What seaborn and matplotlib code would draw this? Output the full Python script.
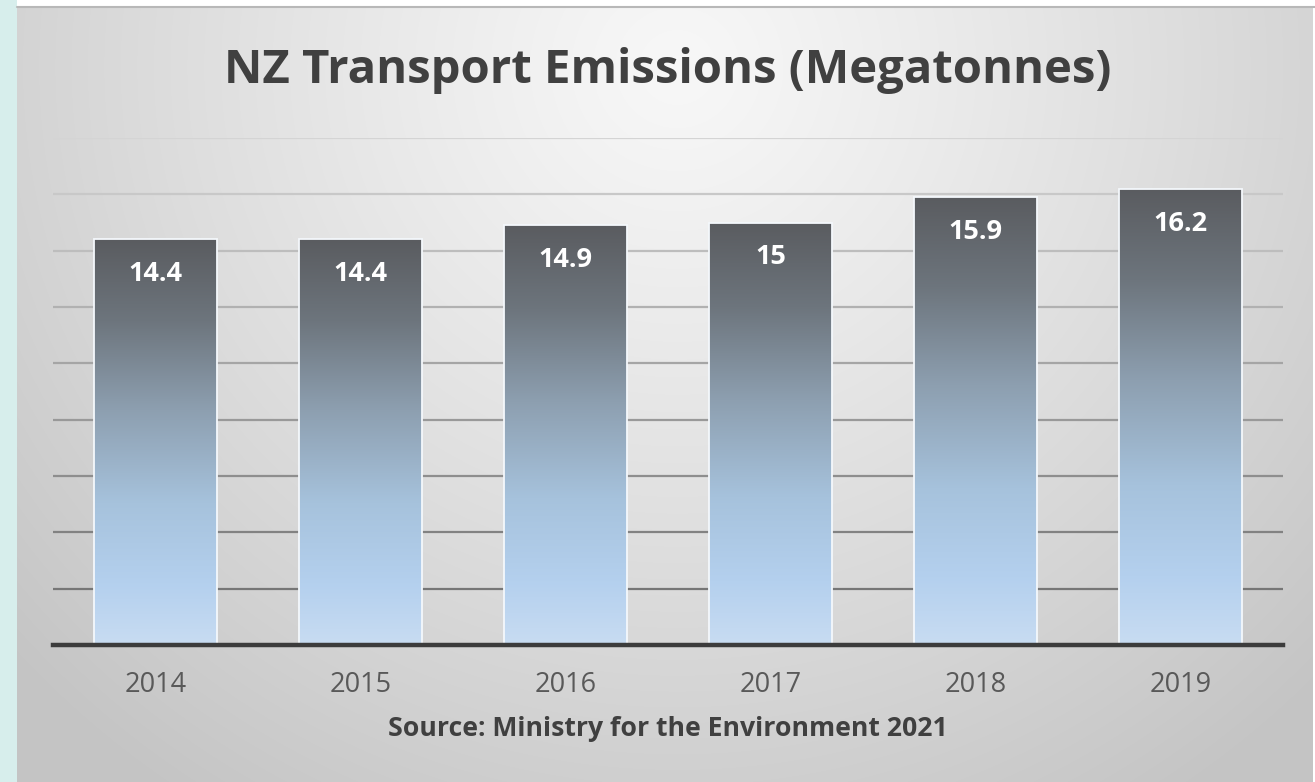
import numpy as np
import pandas as pd
import matplotlib
matplotlib.use("Agg")
import matplotlib.pyplot as plt
from matplotlib.colors import LinearSegmentedColormap, to_rgb
import seaborn as sns

# ---- data ----
years = ["2014", "2015", "2016", "2017", "2018", "2019"]
emissions = [14.4, 14.4, 14.9, 15.0, 15.9, 16.2]
value_labels = ["14.4", "14.4", "14.9", "15", "15.9", "16.2"]
title_text = "NZ Transport Emissions (Megatonnes)"
source_text = "Source: Ministry for the Environment 2021"
grid_ticks = [2, 4, 6, 8, 10, 12, 14, 16, 18]

df = pd.DataFrame({"year": years, "value": emissions})

sns.set_style("white")
plt.rcParams["font.family"] = ["Open Sans", "DejaVu Sans"]

W, H = 1315, 782
fig = plt.figure(figsize=(W / 100, H / 100), dpi=100)
fig.patch.set_facecolor("#ffffff")

# left cyan strip
fig.add_artist(plt.Rectangle((0, 0), 17 / W, 1, transform=fig.transFigure,
                             facecolor="#d7eeec", edgecolor="none", zorder=0))

# background radial gradient for chart area
bx0, by_top = 17, 7
bg = fig.add_axes([bx0 / W, 0, (W - bx0 - 2) / W, (H - by_top) / H], zorder=-1)
bw, bh = W - bx0 - 2, H - by_top
yy, xx = np.mgrid[0:bh, 0:bw]
cx, cy = 660, 60
r = np.sqrt(((xx - cx) / 900.0) ** 2 + ((yy - cy) / 880.0) ** 2)
r = np.clip(r, 0, 1)
light, dark = 0.97, 0.77
val = light - (light - dark) * r ** 1.15
img = np.dstack([val, val, val])
bg.imshow(img, extent=[0, bw, bh, 0], aspect="auto", interpolation="bilinear")
bg.set_xlim(0, bw)
bg.set_ylim(bh, 0)
bg.axis("off")
# top border line
fig.add_artist(plt.Line2D([bx0 / W, 1], [1 - 7 / H, 1 - 7 / H], transform=fig.transFigure,
                          color="#b8b8b8", lw=1.5, zorder=1))

# main axes
ax_left, ax_right = 53 / W, 1283 / W
ax_bottom = (H - 645) / H
ax_top = (H - 138) / H
ax = fig.add_axes([ax_left, ax_bottom, ax_right - ax_left, ax_top - ax_bottom])
ax.patch.set_alpha(0)

sns.barplot(data=df, x="year", y="value", ax=ax, width=0.6, color="#8899aa",
            zorder=3, errorbar=None)

cmap = LinearSegmentedColormap.from_list(
    "bar", [(0.0, "#c8dcf2"), (0.15, "#b4d0ee"), (0.35, "#a6c2dc"),
            (0.58, "#8d9fb0"), (0.8, "#6d757d"), (1.0, "#5a5c60")])
grad = np.linspace(1, 0, 256).reshape(-1, 1)

for p, lab in zip(ax.patches, value_labels):
    x0 = p.get_x()
    w = p.get_width()
    h = p.get_height()
    im = ax.imshow(grad, cmap=cmap, vmin=0, vmax=1, extent=[x0, x0 + w, 0, h],
                   aspect="auto", zorder=3.5, interpolation="bicubic")
    im.set_clip_path(p)
    p.set_facecolor("none")
    p.set_edgecolor("#f4f8fc")
    p.set_linewidth(1.3)
    p.set_zorder(4)
    ax.annotate(lab, xy=(x0 + w / 2, h), xytext=(0, -35), textcoords="offset pixels",
                ha="center", va="center", color="white", fontsize=19.5,
                fontweight="bold", zorder=5)

ax.set_xlim(-0.5, len(years) - 0.5)
ax.set_ylim(0, 18)
ax.set_yticks(grid_ticks)
ax.set_yticklabels([])
ax.tick_params(axis="y", length=0)
ax.tick_params(axis="x", length=0, pad=19, labelsize=19.5, labelcolor="#595959")
ax.yaxis.grid(True, linewidth=1.6)
ax.xaxis.grid(False)
ax.set_axisbelow(True)
gls = ax.get_ygridlines()
top_c = np.array(to_rgb("#d4d4d4"))
bot_c = np.array(to_rgb("#767676"))
for t, gl in zip(grid_ticks, gls):
    f = (t - grid_ticks[0]) / (grid_ticks[-1] - grid_ticks[0])
    gl.set_color(tuple(bot_c + (top_c - bot_c) * f))
for s in ["left", "right", "top"]:
    ax.spines[s].set_visible(False)
ax.spines["bottom"].set_color("#3c3c3c")
ax.spines["bottom"].set_linewidth(3.2)
ax.spines["bottom"].set_zorder(6)
ax.set_xlabel("")
ax.set_ylabel("")

fig.text(668 / W, 1 - 71 / H, title_text, ha="center", va="center",
         fontsize=34, fontweight="bold", color="#404040")
fig.text(668 / W, 1 - 729 / H, source_text, ha="center", va="center",
         fontsize=19.2, fontweight="bold", color="#404040")

fig.savefig("out.png", dpi=100)
